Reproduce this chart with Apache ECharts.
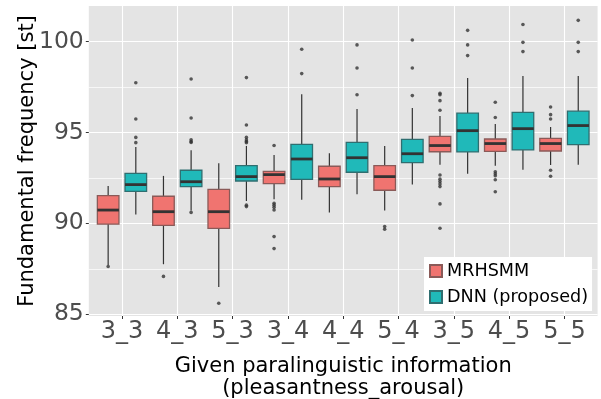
<!DOCTYPE html>
<html>
<head>
<meta charset="utf-8">
<script src="https://cdn.jsdelivr.net/npm/echarts@6/dist/echarts.min.js"></script>
<style>
  html, body { margin: 0; padding: 0; background: #fff; }
  #chart { width: 601px; height: 399px; }
</style>
</head>
<body>
<div id="chart"></div>
<script>
// conditions on the x axis (pleasantness_arousal)
var categories = ['3_3', '4_3', '5_3', '3_4', '4_4', '5_4', '3_5', '4_5', '5_5'];
var xTicks = [1, 2, 3, 4, 5, 6, 7, 8, 9];
var yTicks = [85, 90, 95, 100];
var yMinorTicks = [87.5, 92.5, 97.5];

// [lower whisker, Q1, median, Q3, upper whisker]
var mrhsmmStats = [
  [87.7, 89.96, 90.73, 91.52, 92.06],
  [87.75, 89.89, 90.64, 91.49, 92.61],
  [86.5, 89.72, 90.64, 91.87, 93.3],
  [91.32, 92.18, 92.68, 92.86, 93.76],
  [90.59, 92.02, 92.44, 93.14, 93.85],
  [90.7, 91.82, 92.57, 93.17, 94.26],
  [93.23, 93.94, 94.28, 94.78, 95.91],
  [93.17, 93.96, 94.39, 94.64, 95.47],
  [93.21, 93.98, 94.39, 94.68, 95.3]
];
var dnnStats = [
  [90.48, 91.76, 92.13, 92.75, 94.2],
  [90.7, 92.02, 92.29, 92.92, 94.02],
  [91.23, 92.33, 92.57, 93.17, 94.26],
  [91.3, 92.42, 93.54, 94.35, 97.1],
  [91.6, 92.81, 93.61, 94.46, 96.29],
  [92.13, 93.34, 93.83, 94.62, 96.35],
  [92.73, 93.93, 95.1, 96.06, 98.0],
  [92.95, 94.04, 95.21, 96.11, 98.11],
  [93.23, 94.33, 95.38, 96.17, 98.11]
];

// outliers per condition
var mrhsmmOutliers = [
  [87.62],
  [87.08],
  [85.6],
  [94.28, 91.1, 91.0, 90.88, 90.73, 89.27, 88.61],
  [],
  [89.82, 89.67],
  [97.16, 97.08, 96.75, 96.22, 92.66, 92.43, 92.3, 92.17, 92.02, 91.07, 89.73],
  [96.66, 95.82, 92.84, 92.73, 92.62, 92.4, 91.74],
  [96.4, 95.98, 95.74, 92.92, 92.59]
];
var dnnOutliers = [
  [97.74, 95.74, 94.73, 94.44],
  [97.94, 95.8, 94.6, 94.5, 94.45, 90.6],
  [98.02, 95.41, 94.73, 94.59, 94.5, 94.44, 91.0, 90.92],
  [99.58, 98.24],
  [99.82, 98.55, 97.08],
  [100.09, 98.55, 97.03],
  [100.62, 99.82, 99.23],
  [100.94, 99.96, 99.45],
  [101.17, 99.96, 99.45]
];

var BOX_W = 0.39;
var DODGE = 0.25;
var FONT = 'DejaVu Sans';

function boxData(stats) {
  return stats.map(function (s, i) { return [xTicks[i]].concat(s); });
}

function outlierData(list, offset) {
  var out = [];
  list.forEach(function (vals, i) {
    vals.forEach(function (v) { out.push([xTicks[i] + offset, v]); });
  });
  return out;
}

function renderBox(offset, fill, stroke) {
  return function (params, api) {
    var x = api.value(0) + offset;
    var half = api.size([BOX_W, 0])[0] / 2;
    var lo = api.coord([x, api.value(1)]);
    var q1 = api.coord([x, api.value(2)]);
    var md = api.coord([x, api.value(3)]);
    var q3 = api.coord([x, api.value(4)]);
    var hi = api.coord([x, api.value(5)]);
    return {
      type: 'group',
      children: [
        { type: 'line', shape: { x1: hi[0], y1: hi[1], x2: q3[0], y2: q3[1] }, style: { stroke: '#333', lineWidth: 1.2 } },
        { type: 'line', shape: { x1: q1[0], y1: q1[1], x2: lo[0], y2: lo[1] }, style: { stroke: '#333', lineWidth: 1.2 } },
        { type: 'rect', shape: { x: q3[0] - half, y: q3[1], width: half * 2, height: q1[1] - q3[1] },
          style: { fill: fill, stroke: stroke, lineWidth: 1.3 } },
        { type: 'line', shape: { x1: md[0] - half, y1: md[1], x2: md[0] + half, y2: md[1] }, style: { stroke: '#333', lineWidth: 2.8 } }
      ]
    };
  };
}

var chart = echarts.init(document.getElementById('chart'));
chart.setOption({
  animation: false,
  textStyle: { fontFamily: FONT },
  grid: {
    left: 88.8, right: 3.4, top: 6, bottom: 83,
    outerBoundsMode: 'none',
    show: true, backgroundColor: '#E4E4E4', borderWidth: 0
  },
  legend: {
    data: ['MRHSMM', 'DNN (proposed)'],
    orient: 'vertical',
    left: 424, top: 257,
    icon: 'rect',
    itemWidth: 12, itemHeight: 12, itemGap: 8,
    backgroundColor: '#fff',
    padding: [5, 4, 5, 5],
    textStyle: { fontFamily: FONT, fontSize: 17.6, color: '#000' }
  },
  xAxis: {
    type: 'value',
    min: 0.4, max: 9.6,
    name: 'Given paralinguistic information\n(pleasantness_arousal)',
    nameLocation: 'middle',
    nameGap: 40,
    nameMoveOverlap: false,
    nameTextStyle: { fontFamily: FONT, fontSize: 21, color: '#000', lineHeight: 22, verticalAlign: 'top' },
    axisLine: { show: false },
    axisTick: { show: true, length: 3, customValues: xTicks, lineStyle: { color: '#333' } },
    axisLabel: {
      customValues: xTicks, margin: 4, fontSize: 24, color: '#4D4D4D',
      formatter: function (v) { return categories[Math.round(v) - 1]; }
    },
    splitLine: { show: true, lineStyle: { color: '#fff', width: 1.1 } }
  },
  yAxis: [{
    type: 'value',
    min: 84.9, max: 101.96,
    name: 'Fundamental frequency [st]',
    nameLocation: 'middle',
    nameGap: 51,
    nameMoveOverlap: false,
    nameTextStyle: { fontFamily: FONT, fontSize: 21, color: '#000' },
    axisLine: { show: false },
    axisTick: { show: true, length: 3, customValues: yTicks, lineStyle: { color: '#333' } },
    axisLabel: { customValues: yTicks, margin: 5, fontSize: 23.5, color: '#4D4D4D' },
    splitLine: { show: true, lineStyle: { color: '#fff', width: 1.1 } }
  }, {
    type: 'value',
    min: 84.9, max: 101.96,
    position: 'right',
    axisLine: { show: false },
    axisTick: { show: false, customValues: yMinorTicks },
    axisLabel: { show: false, customValues: yMinorTicks },
    splitLine: { show: true, lineStyle: { color: '#fff', width: 0.7 } }
  }],
  series: [{
    name: 'MRHSMM',
    type: 'custom',
    renderItem: renderBox(-DODGE, '#F07470', '#8A5A58'),
    itemStyle: { color: '#F07470', borderColor: '#8A5A58', borderWidth: 1 },
    encode: { x: 0, y: [1, 2, 3, 4, 5] },
    data: boxData(mrhsmmStats),
    z: 3
  }, {
    name: 'DNN (proposed)',
    type: 'custom',
    renderItem: renderBox(DODGE, '#20B9B9', '#2F6E70'),
    itemStyle: { color: '#20B9B9', borderColor: '#2F6E70', borderWidth: 1 },
    encode: { x: 0, y: [1, 2, 3, 4, 5] },
    data: boxData(dnnStats),
    z: 3
  }, {
    name: 'MRHSMM outliers',
    type: 'scatter',
    symbolSize: 3.6,
    itemStyle: { color: '#333' },
    data: outlierData(mrhsmmOutliers, -DODGE),
    z: 4
  }, {
    name: 'DNN outliers',
    type: 'scatter',
    symbolSize: 3.6,
    itemStyle: { color: '#333' },
    data: outlierData(dnnOutliers, DODGE),
    z: 4
  }]
});
</script>
</body>
</html>
